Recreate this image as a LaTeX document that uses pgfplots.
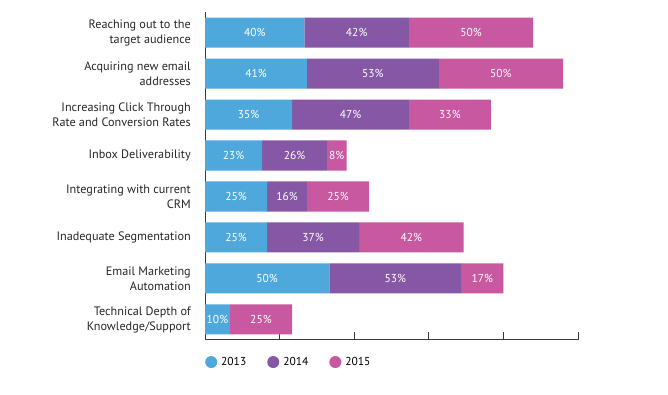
\documentclass[border=0pt]{standalone}
\usepackage{pgfplots}
\usepackage{pgfplotstable}
\usepackage{fontspec}
\setmainfont{PT Sans}
\pgfplotsset{compat=1.18}
\definecolor{cA}{HTML}{4FA8DC}
\definecolor{cB}{HTML}{8557A5}
\definecolor{cC}{HTML}{C858A0}
\definecolor{axgray}{HTML}{3A3A3A}
\pgfplotstableread{
y a b c
7 40 42 50
6 41 53 50
5 35 47 33
4 23 26 8
3 25 16 25
2 25 37 42
1 50 53 17
0 10 0 25
}\datatable
\begin{document}
\begin{tikzpicture}
\path[use as bounding box] (-205pt,-55pt) rectangle (463pt,340pt);
\begin{axis}[
  scale only axis, width=373pt, height=328pt,
  xmin=0, xmax=150, ymin=-0.5, ymax=7.5,
  xbar stacked, bar width=30pt,
  axis x line=bottom, axis y line=left,
  axis line style={-, axgray, line width=1pt},
  xtick={30,60,90,120,150}, xticklabels={},
  xtick align=inside, major tick length=8pt,
  xtick style={axgray, line width=1pt},
  ytick={0,...,7}, ytick style={draw=none},
  yticklabels={{Technical Depth of\\Knowledge/Support},{Email Marketing\\Automation},{Inadequate Segmentation},{Integrating with current\\CRM},{Inbox Deliverability},{Increasing Click Through\\Rate and Conversion Rates},{Acquiring new email\\addresses},{Reaching out to the\\target audience}},
  yticklabel style={align=right, font=\fontsize{12.2}{15}\selectfont, text=black!85, inner sep=0pt, xshift=-10pt},
  legend columns=3,
  legend style={draw=none, at={(rel axis cs:0,0)}, anchor=north west, yshift=-13pt, font=\fontsize{11.5}{13}\selectfont, column sep=2pt, inner xsep=0pt,
    /tikz/every even column/.append style={column sep=19pt}},
  legend image code/.code={\path[#1, draw=none] (0.25em,0) circle (6pt);},
]
\addplot[fill=cA, draw=none] table[x=a, y=y] {\datatable};
\addplot[fill=cB, draw=none] table[x=b, y=y] {\datatable};
\addplot[fill=cC, draw=none] table[x=c, y=y] {\datatable};
\legend{2013,2014,2015}
\end{axis}
\begin{axis}[
  scale only axis, width=373pt, height=328pt,
  xmin=0, xmax=150, ymin=-0.5, ymax=7.5,
  hide axis,
  /pgf/number format/assume math mode=true,
  nodes near coords={\pgfmathprintnumber{\pgfplotspointmeta}\%},
  every node near coord/.append style={anchor=center, text=white, font=\fontsize{11.5}{13}\selectfont},
  point meta=explicit,
]
\addplot[draw=none, mark=none] table[x expr=\thisrow{a}/2, y=y, meta=a] {\datatable};
\addplot[draw=none, mark=none, skip coords between index={7}{8}] table[x expr=\thisrow{a}+\thisrow{b}/2, y=y, meta=b] {\datatable};
\addplot[draw=none, mark=none] table[x expr=\thisrow{a}+\thisrow{b}+\thisrow{c}/2, y=y, meta=c] {\datatable};
\end{axis}
\end{tikzpicture}
\end{document}
